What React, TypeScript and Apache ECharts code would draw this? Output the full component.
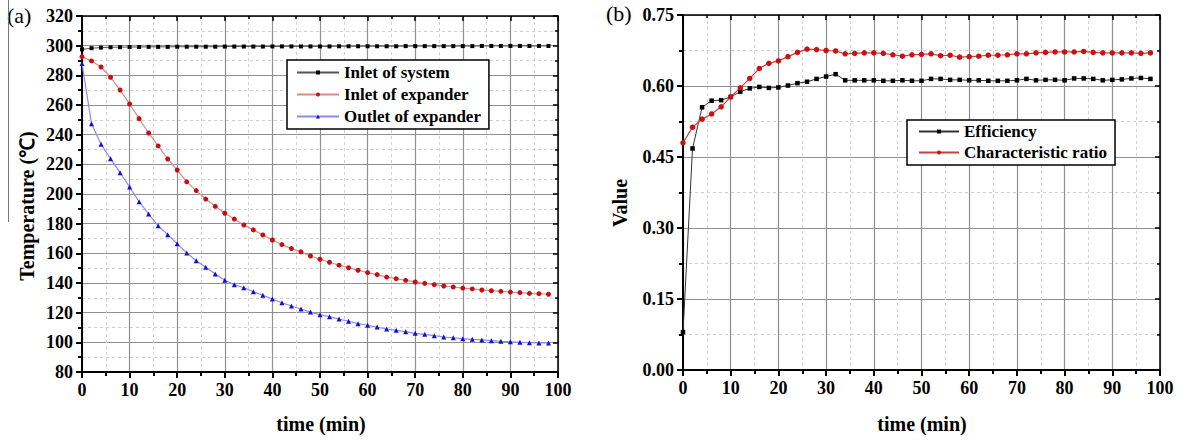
import React, { useEffect, useRef } from "react";
import * as echarts from "echarts";

const time = [0, 2, 4, 6, 8, 10, 12, 14, 16, 18, 20, 22, 24, 26, 28, 30, 32, 34, 36, 38, 40, 42, 44, 46, 48, 50, 52, 54, 56, 58, 60, 62, 64, 66, 68, 70, 72, 74, 76, 78, 80, 82, 84, 86, 88, 90, 92, 94, 96, 98];

const inletSystem = [297.5, 298.3, 298.7, 298.9, 299.0, 299.1, 299.1, 299.2, 299.2, 299.2, 299.3, 299.3, 299.3, 299.3, 299.3, 299.4, 299.4, 299.4, 299.4, 299.4, 299.5, 299.5, 299.5, 299.5, 299.5, 299.5, 299.5, 299.6, 299.6, 299.6, 299.6, 299.6, 299.6, 299.6, 299.7, 299.7, 299.7, 299.7, 299.7, 299.7, 299.7, 299.7, 299.8, 299.8, 299.8, 299.8, 299.8, 299.8, 299.8, 299.8];
const inletExpander = [292.6, 289.7, 285.6, 278.7, 270.1, 260.7, 250.8, 241.1, 232.4, 223.6, 216.2, 208.2, 202.3, 196.6, 191.7, 187, 183.1, 179.1, 175.8, 172.4, 169, 165.9, 163.2, 161, 158.2, 156, 154, 152, 150.3, 148.6, 147, 145.7, 144, 142.9, 141.8, 140.7, 139.8, 138.9, 138, 137.3, 136.6, 136, 135.3, 134.8, 134.4, 133.9, 133.5, 133, 132.8, 132.4];
const outletExpander = [288, 247.4, 233.5, 223.8, 214.4, 204.7, 194.8, 186.5, 178.6, 172.6, 166.5, 160.3, 155, 150.6, 146.1, 141.9, 138.9, 136.8, 134.1, 131.7, 129.2, 126.7, 124.5, 122.5, 120.4, 118.6, 117.3, 115.7, 114.2, 112.6, 111.5, 110.3, 109, 108.1, 107.2, 106.1, 105.4, 104.5, 103.6, 103.1, 102.5, 102, 101.6, 101.1, 100.7, 100.4, 100, 99.8, 99.6, 99.6];

const efficiency = [0.08, 0.468, 0.555, 0.569, 0.570, 0.577, 0.588, 0.595, 0.598, 0.596, 0.597, 0.601, 0.606, 0.609, 0.615, 0.620, 0.625, 0.612, 0.612, 0.612, 0.612, 0.611, 0.611, 0.612, 0.611, 0.611, 0.615, 0.615, 0.613, 0.613, 0.612, 0.612, 0.611, 0.611, 0.611, 0.612, 0.615, 0.612, 0.613, 0.613, 0.612, 0.616, 0.616, 0.615, 0.612, 0.613, 0.614, 0.616, 0.617, 0.615];
const charRatio = [0.480, 0.513, 0.530, 0.541, 0.556, 0.577, 0.596, 0.616, 0.637, 0.648, 0.653, 0.662, 0.671, 0.678, 0.677, 0.675, 0.674, 0.668, 0.669, 0.670, 0.670, 0.669, 0.666, 0.663, 0.666, 0.667, 0.668, 0.664, 0.665, 0.661, 0.662, 0.663, 0.665, 0.665, 0.666, 0.668, 0.668, 0.670, 0.671, 0.672, 0.672, 0.672, 0.673, 0.671, 0.670, 0.670, 0.670, 0.670, 0.669, 0.670];

const SERIF = "'Liberation Serif', 'Times New Roman', serif";

function pairs(ys: number[]) {
  return time.map((t, i) => [t, ys[i]]);
}

function mainX(gridIndex: number) {
  return {
    type: "value",
    gridIndex,
    min: 0,
    max: 100,
    interval: 10,
    position: "bottom",
    axisLine: { show: true, onZero: false, lineStyle: { color: "#000", width: 2 } },
    axisTick: { show: true, inside: false, length: 6, lineStyle: { color: "#000", width: 2 } },
    minorTick: { show: true, splitNumber: 2, length: 4, lineStyle: { color: "#000", width: 2 } },
    axisLabel: { color: "#000", fontFamily: SERIF, fontWeight: "bold", fontSize: 18, margin: 9 },
    splitLine: { show: true, lineStyle: { color: "#909090", width: 1.2 } },
    minorSplitLine: { show: true, lineStyle: { color: "#d0d0d0", width: 1, type: [3, 3] } },
  };
}
function topX(gridIndex: number) {
  return {
    type: "value",
    gridIndex,
    min: 0,
    max: 100,
    interval: 10,
    position: "top",
    axisLine: { show: true, onZero: false, lineStyle: { color: "#000", width: 1.5 } },
    axisTick: { show: true, inside: true, length: 5, lineStyle: { color: "#000", width: 1.5 } },
    minorTick: { show: true, splitNumber: 2, length: 3, lineStyle: { color: "#000", width: 1.5 } },
    axisLabel: { show: false },
    splitLine: { show: false },
  };
}
function mainY(gridIndex: number, min: number, max: number, interval: number, fmt: (v: number) => string) {
  return {
    type: "value",
    gridIndex,
    min,
    max,
    interval,
    position: "left",
    axisLine: { show: true, onZero: false, lineStyle: { color: "#000", width: 2 } },
    axisTick: { show: true, inside: false, length: 6, lineStyle: { color: "#000", width: 2 } },
    minorTick: { show: true, splitNumber: 2, length: 4, lineStyle: { color: "#000", width: 2 } },
    axisLabel: { color: "#000", fontFamily: SERIF, fontWeight: "bold", fontSize: 18, margin: 9, formatter: fmt },
    splitLine: { show: true, lineStyle: { color: "#909090", width: 1.2 } },
    minorSplitLine: { show: true, lineStyle: { color: "#d0d0d0", width: 1, type: [3, 3] } },
  };
}
function rightY(gridIndex: number, min: number, max: number, interval: number) {
  return {
    type: "value",
    gridIndex,
    min,
    max,
    interval,
    position: "right",
    axisLine: { show: true, onZero: false, lineStyle: { color: "#000", width: 1.5 } },
    axisTick: { show: true, inside: true, length: 5, lineStyle: { color: "#000", width: 1.5 } },
    minorTick: { show: true, splitNumber: 2, length: 3, lineStyle: { color: "#000", width: 1.5 } },
    axisLabel: { show: false },
    splitLine: { show: false },
  };
}

export default function App() {
  const ref = useRef<HTMLDivElement>(null);
  useEffect(() => {
    document.body.style.margin = "0";
    const chart = echarts.init(ref.current!, null, { renderer: "svg" });
    const legendText = { color: "#000", fontFamily: SERIF, fontWeight: "bold", fontSize: 17 };
    chart.setOption({
      animation: false,
      backgroundColor: "#fff",
      grid: [
        { left: 82, top: 16, width: 476, height: 356 },
        { left: 683, top: 15, width: 477, height: 355 },
      ],
      xAxis: [mainX(0), topX(0), mainX(1), topX(1)],
      yAxis: [
        mainY(0, 80, 320, 20, (v: number) => String(v)),
        rightY(0, 80, 320, 20),
        mainY(1, 0, 0.75, 0.15, (v: number) => v.toFixed(2)),
        rightY(1, 0, 0.75, 0.15),
      ],
      legend: [
        {
          data: ["Inlet of system", "Inlet of expander", "Outlet of expander"],
          left: 287,
          top: 60,
          orient: "vertical",
          backgroundColor: "#fff",
          borderColor: "#000",
          borderWidth: 1.5,
          borderRadius: 0,
          padding: [4, 8, 4, 9],
          itemGap: 5,
          itemWidth: 42,
          itemHeight: 5,
          textStyle: legendText,
        },
        {
          data: ["Efficiency", "Characteristic ratio"],
          left: 907,
          top: 120,
          orient: "vertical",
          backgroundColor: "#fff",
          borderColor: "#000",
          borderWidth: 1.5,
          borderRadius: 0,
          padding: [3, 8, 4, 11],
          itemGap: 4,
          itemWidth: 40,
          itemHeight: 5,
          textStyle: legendText,
        },
      ],
      series: [
        {
          name: "Inlet of system",
          type: "line",
          xAxisIndex: 0,
          yAxisIndex: 0,
          data: pairs(inletSystem),
          symbol: "rect",
          symbolSize: 4,
          lineStyle: { color: "#555", width: 1 },
          itemStyle: { color: "#000" },
        },
        {
          name: "Inlet of expander",
          type: "line",
          xAxisIndex: 0,
          yAxisIndex: 0,
          data: pairs(inletExpander),
          symbol: "circle",
          symbolSize: 5,
          lineStyle: { color: "#d98a8a", width: 1.2 },
          itemStyle: { color: "#c41010" },
        },
        {
          name: "Outlet of expander",
          type: "line",
          xAxisIndex: 0,
          yAxisIndex: 0,
          data: pairs(outletExpander),
          symbol: "triangle",
          symbolSize: 5,
          lineStyle: { color: "#8a8af0", width: 1.2 },
          itemStyle: { color: "#1010d0" },
        },
        {
          name: "Efficiency",
          type: "line",
          xAxisIndex: 2,
          yAxisIndex: 2,
          data: pairs(efficiency),
          symbol: "rect",
          symbolSize: 4.5,
          lineStyle: { color: "#333", width: 1 },
          itemStyle: { color: "#000" },
        },
        {
          name: "Characteristic ratio",
          type: "line",
          xAxisIndex: 2,
          yAxisIndex: 2,
          data: pairs(charRatio),
          symbol: "circle",
          symbolSize: 5.5,
          lineStyle: { color: "#c84040", width: 1.2 },
          itemStyle: { color: "#cc1010" },
        },
      ],
      graphic: [
        { type: "text", left: 7, top: 4, style: { text: "(a)", fill: "#000", font: `22px ${SERIF}` } },
        { type: "text", left: 606, top: 2, style: { text: "(b)", fill: "#000", font: `22px ${SERIF}` } },
        {
          type: "text",
          x: 27,
          y: 206,
          rotation: Math.PI / 2,
          style: { text: "Temperature (℃)", fill: "#000", font: `bold 20px ${SERIF}`, align: "center", verticalAlign: "middle" },
        },
        {
          type: "text",
          x: 620,
          y: 203,
          rotation: Math.PI / 2,
          style: { text: "Value", fill: "#000", font: `bold 20px ${SERIF}`, align: "center", verticalAlign: "middle" },
        },
        {
          type: "text",
          x: 321,
          y: 424,
          style: { text: "time (min)", fill: "#000", font: `bold 20px ${SERIF}`, align: "center", verticalAlign: "middle" },
        },
        {
          type: "text",
          x: 922,
          y: 424,
          style: { text: "time (min)", fill: "#000", font: `bold 20px ${SERIF}`, align: "center", verticalAlign: "middle" },
        },
        { type: "line", shape: { x1: 8.5, y1: 0, x2: 8.5, y2: 222 }, style: { stroke: "#777", lineWidth: 1 } },
      ],
    });
    return () => chart.dispose();
  }, []);
  return <div ref={ref} style={{ width: 1181, height: 440 }} />;
}
